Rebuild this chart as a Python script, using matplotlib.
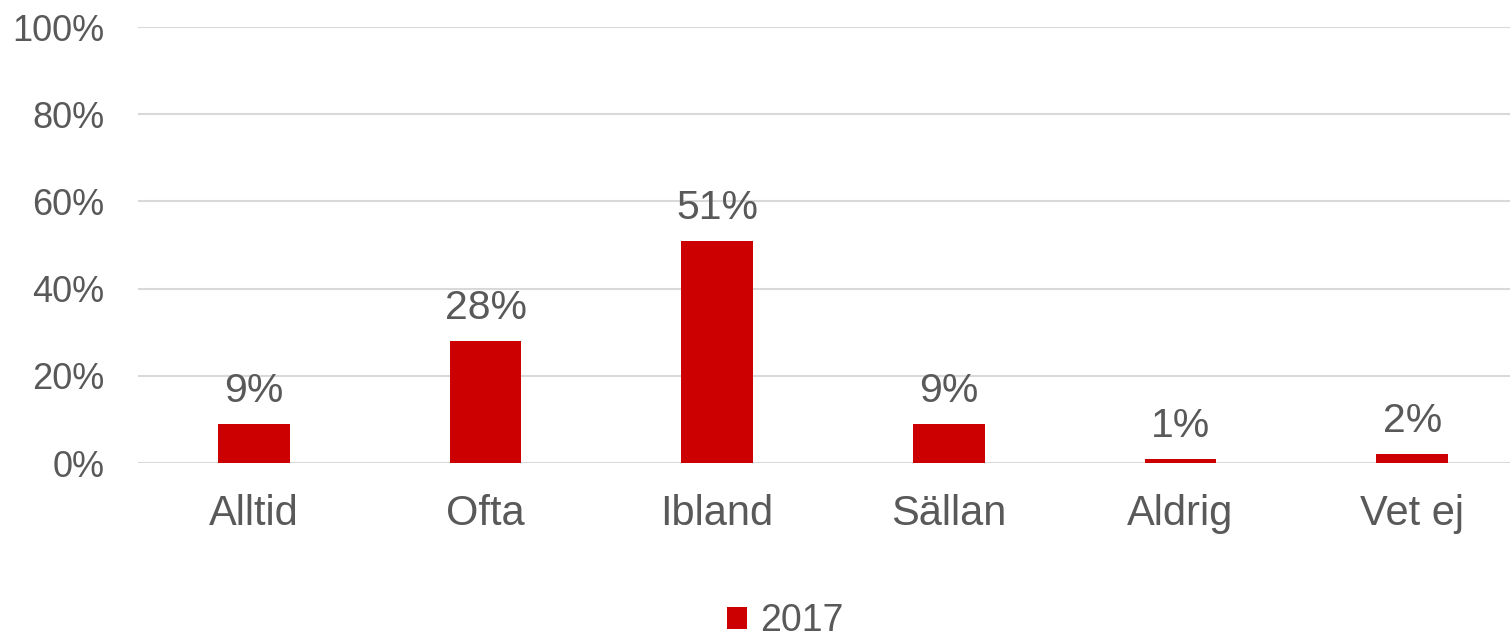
import matplotlib.pyplot as plt
from matplotlib.ticker import PercentFormatter

kategorier = ["Alltid", "Ofta", "Ibland", "Sällan", "Aldrig", "Vet ej"]
andel_2017 = [9, 28, 51, 9, 1, 2]
serie = "2017"

plt.rcParams["font.family"] = ["Liberation Sans", "DejaVu Sans"]
grå = "#595959"
röd = "#CC0000"

fig = plt.figure(figsize=(15.1, 6.44), dpi=100)
ax = fig.add_axes([0.0914, 0.281, 0.9205, 0.677])

x = range(len(kategorier))
staplar = ax.bar(x, andel_2017, width=0.31, color=röd, label=serie, zorder=3)

# etiketter ovanför staplarna
for xi, v in zip(x, andel_2017):
    ax.annotate(f"{v}%", (xi, v), xytext=(0, 10), textcoords="offset points",
                ha="center", va="bottom", fontsize=29.5, color=grå)

ax.set_xlim(-0.5, len(kategorier) - 0.5)
ax.set_ylim(0, 100)
ax.set_yticks(range(0, 101, 20))
ax.yaxis.set_major_formatter(PercentFormatter(decimals=0))
ax.set_xticks(list(x))
ax.set_xticklabels(kategorier)

ax.grid(axis="y", color="#D9D9D9", linewidth=1.5, zorder=0)
for s in ax.spines.values():
    s.set_visible(False)
ax.tick_params(axis="y", length=0, pad=24, labelsize=26, labelcolor=grå)
ax.tick_params(axis="x", length=0, pad=22, labelsize=30, labelcolor=grå)

fig.legend(loc="lower center", bbox_to_anchor=(0.52, -0.045), frameon=False,
           fontsize=27, labelcolor=grå, handlelength=0.55, handleheight=0.55,
           handletextpad=0.35)

fig.savefig("out.png", dpi=100)
